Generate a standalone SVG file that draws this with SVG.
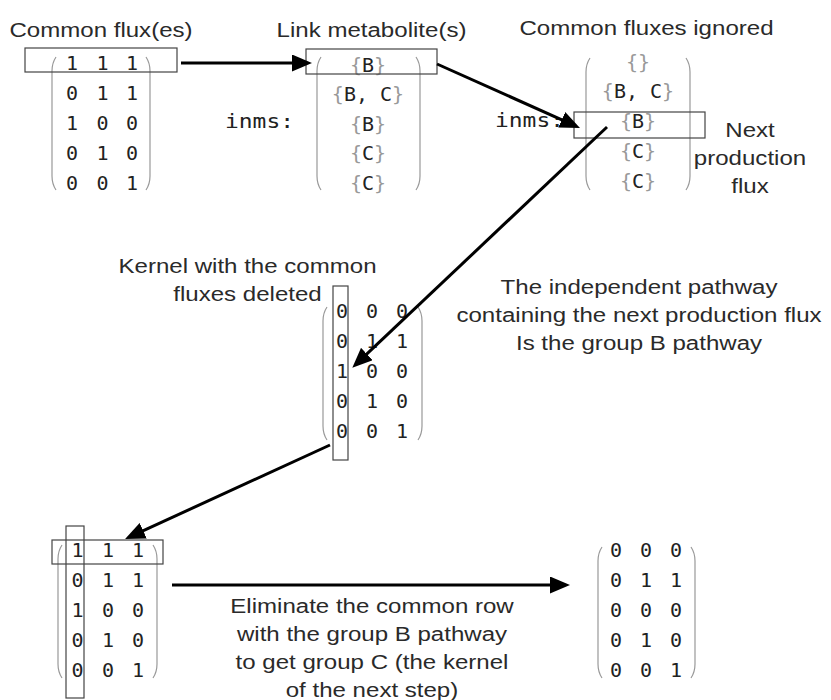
<svg xmlns="http://www.w3.org/2000/svg" width="831" height="700" viewBox="0 0 831 700">
<style>
.t{font-family:"Liberation Sans",Arial,sans-serif;font-size:21px;fill:#2a2a2a;text-anchor:middle}
.m{font-family:"DejaVu Sans Mono",monospace;font-size:20px;fill:#222;text-anchor:middle}
.lbl{font-family:"DejaVu Sans Mono",monospace;font-size:20px;fill:#222}
.br{fill:#999}
.paren{fill:none;stroke:#999;stroke-width:1.2}
.box{fill:none;stroke:#444;stroke-width:1.2}
.conn{fill:none;stroke:#000;stroke-width:3;marker-end:url(#ah)}
</style>
<defs>
<marker id="ah" markerUnits="userSpaceOnUse" viewBox="0 0 20 17" refX="13" refY="8.5" markerWidth="20" markerHeight="17" orient="auto">
<path d="M0,0 L20,8.5 L0,17 z" fill="#000"/>
</marker>
</defs>
<rect width="831" height="700" fill="#fff"/>

<g id="common-fluxes">
<text class="t" transform="translate(101,37) scale(1.146,1)">Common flux(es)</text>
<path class="paren" d="M56 57 Q52 63 52 71 L52 176 Q52 184 56 190"/>
<path class="paren" d="M146 57 Q150 63 150 71 L150 176 Q150 184 146 190"/>
<text class="m" x="72 102.5 132" y="70">111</text>
<text class="m" x="72 102.5 132" y="100">011</text>
<text class="m" x="72 102.5 132" y="130">100</text>
<text class="m" x="72 102.5 132" y="160">010</text>
<text class="m" x="72 102.5 132" y="190">001</text>
<rect class="box" x="25" y="48" width="152" height="24"/>
</g>

<g id="link-metabolites">
<text class="t" transform="translate(371.5,37) scale(1.146,1)">Link metabolite(s)</text>
<text class="lbl" transform="translate(225,128) scale(1.146,1)">inms:</text>
<path class="paren" d="M321 57 Q317 63 317 71 L317 176 Q317 184 321 190"/>
<path class="paren" d="M416 57 Q420 63 420 71 L420 176 Q420 184 416 190"/>
<text class="m" x="368" y="72"><tspan class="br">{</tspan>B<tspan class="br">}</tspan></text>
<text class="m" x="368" y="101"><tspan class="br">{</tspan>B, C<tspan class="br">}</tspan></text>
<text class="m" x="368" y="131"><tspan class="br">{</tspan>B<tspan class="br">}</tspan></text>
<text class="m" x="368" y="160"><tspan class="br">{</tspan>C<tspan class="br">}</tspan></text>
<text class="m" x="368" y="190"><tspan class="br">{</tspan>C<tspan class="br">}</tspan></text>
<rect class="box" x="306" y="49" width="131" height="25"/>
</g>

<g id="common-fluxes-ignored">
<text class="t" transform="translate(646.5,35) scale(1.146,1)">Common fluxes ignored</text>
<text class="lbl" transform="translate(495,127) scale(1.146,1)">inms:</text>
<path class="paren" d="M590 58 Q586 64 586 72 L586 176 Q586 184 590 190"/>
<path class="paren" d="M686 58 Q690 64 690 72 L690 176 Q690 184 686 190"/>
<text class="m" x="638" y="69"><tspan class="br">{}</tspan></text>
<text class="m" x="638" y="98"><tspan class="br">{</tspan>B, C<tspan class="br">}</tspan></text>
<text class="m" x="638" y="128"><tspan class="br">{</tspan>B<tspan class="br">}</tspan></text>
<text class="m" x="638" y="158"><tspan class="br">{</tspan>C<tspan class="br">}</tspan></text>
<text class="m" x="638" y="188"><tspan class="br">{</tspan>C<tspan class="br">}</tspan></text>
<rect class="box" x="574" y="112" width="131" height="26"/>
<text class="t" transform="translate(750,137) scale(1.146,1)">Next</text>
<text class="t" transform="translate(750,165) scale(1.146,1)">production</text>
<text class="t" transform="translate(750,193) scale(1.146,1)">flux</text>
</g>

<g id="kernel-deleted">
<text class="t" transform="translate(247.5,273) scale(1.146,1)">Kernel with the common</text>
<text class="t" transform="translate(247.5,301) scale(1.146,1)">fluxes deleted</text>
<path class="paren" d="M327 307 Q323 313 323 321 L323 426 Q323 434 327 440"/>
<path class="paren" d="M418 307 Q422 313 422 321 L422 426 Q422 434 418 440"/>
<text class="m" x="342 372 402" y="318">000</text>
<text class="m" x="342 372 402" y="348">011</text>
<text class="m" x="342 372 402" y="378">100</text>
<text class="m" x="342 372 402" y="408">010</text>
<text class="m" x="342 372 402" y="438">001</text>
<rect class="box" x="333" y="286" width="15" height="174"/>
</g>

<g id="pathway-note">
<text class="t" transform="translate(639,294) scale(1.146,1)">The independent pathway</text>
<text class="t" transform="translate(639,322) scale(1.146,1)">containing the next production flux</text>
<text class="t" transform="translate(639,350) scale(1.146,1)">Is the group B pathway</text>
</g>

<g id="kernel-common-row">
<path class="paren" d="M62 545 Q58 551 58 559 L58 664 Q58 672 62 678"/>
<path class="paren" d="M153 545 Q157 551 157 559 L157 664 Q157 672 153 678"/>
<text class="m" x="77.5 108 138" y="557">111</text>
<text class="m" x="77.5 108 138" y="587">011</text>
<text class="m" x="77.5 108 138" y="617">100</text>
<text class="m" x="77.5 108 138" y="647">010</text>
<text class="m" x="77.5 108 138" y="677">001</text>
<rect class="box" x="52" y="540" width="111" height="24"/>
<rect class="box" x="66" y="526" width="18" height="172"/>
</g>

<g id="eliminate-note">
<text class="t" transform="translate(372,613) scale(1.146,1)">Eliminate the common row</text>
<text class="t" transform="translate(372,641) scale(1.146,1)">with the group B pathway</text>
<text class="t" transform="translate(372,669) scale(1.146,1)">to get group C (the kernel</text>
<text class="t" transform="translate(372,697) scale(1.146,1)">of the next step)</text>
</g>

<g id="next-kernel">
<path class="paren" d="M602 547 Q598 553 598 561 L598 664 Q598 672 602 678"/>
<path class="paren" d="M691 547 Q695 553 695 561 L695 664 Q695 672 691 678"/>
<text class="m" x="616 646 676" y="557">000</text>
<text class="m" x="616 646 676" y="587">011</text>
<text class="m" x="616 646 676" y="617">000</text>
<text class="m" x="616 646 676" y="647">010</text>
<text class="m" x="616 646 676" y="677">001</text>
</g>

<g id="connectors">
<line class="conn" x1="181" y1="63" x2="305" y2="63"/>
<line class="conn" x1="437" y1="64" x2="573.6" y2="125.1"/>
<line class="conn" x1="607" y1="127" x2="357.4" y2="362.9"/>
<line class="conn" x1="330" y1="445" x2="131.4" y2="536.1"/>
<line class="conn" x1="172" y1="585" x2="563" y2="585"/>
</g>
</svg>
